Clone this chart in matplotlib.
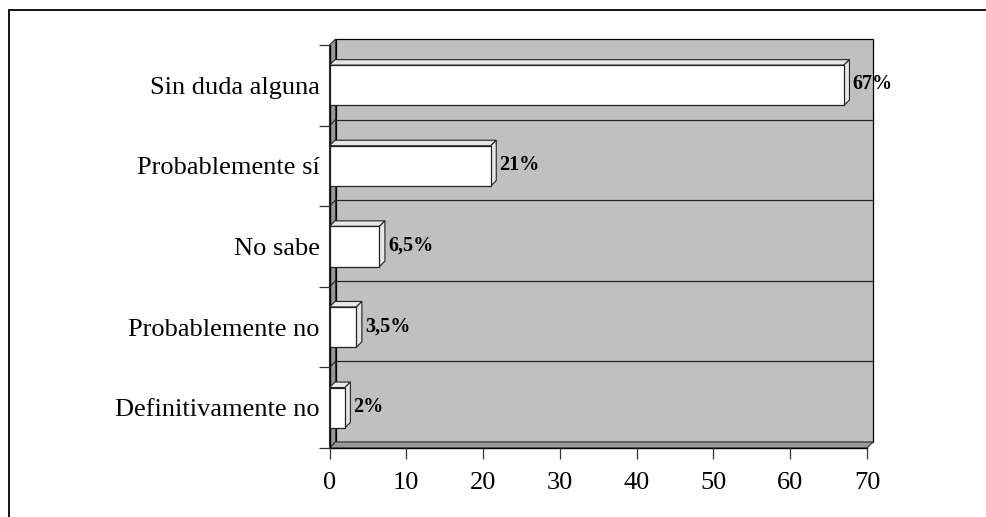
import matplotlib
matplotlib.use("Agg")
import matplotlib.pyplot as plt
from matplotlib.patches import Polygon, Rectangle

plt.rcParams["font.family"] = ["Liberation Serif", "DejaVu Serif"]

# bottom to top
categories = [
    "Definitivamente no",
    "Probablemente no",
    "No sabe",
    "Probablemente sí",
    "Sin duda alguna",
]
values = [2, 3.5, 6.5, 21, 67]
value_labels = ["2%", "3,5%", "6,5%", "21%", "67%"]
x_ticks = [0, 10, 20, 30, 40, 50, 60, 70]

W, H = 986, 517
wall_color = "#c0c0c0"
side_color = "#999999"
face_light = "#e8e8e8"

# front plane of the plot, in pixels
left, right, top, bottom = 329.5, 867.0, 45.0, 448.0

fig = plt.figure(figsize=(W / 100, H / 100), dpi=100)
ax = fig.add_axes([left / W, 1 - bottom / H, (right - left) / W, (bottom - top) / H])
ax.set_xlim(0, 70)
ax.set_ylim(-0.5, len(categories) - 0.5)

# depth offsets converted to data units
px_x = (right - left) / 70
px_y = (bottom - top) / len(categories)
wall_dx, wall_dy = 6 / px_x, 6 / px_y
bar_dx, bar_dy = 5.5 / px_x, 5.5 / px_y

y0, y1 = -0.5, len(categories) - 0.5

# back wall
ax.add_patch(Rectangle((wall_dx, y0 + wall_dy), 70, y1 - y0, fc=wall_color,
                       ec="black", lw=0.9, clip_on=False, zorder=0))
# side wall and floor
ax.add_patch(Polygon([(0, y0), (0, y1), (wall_dx, y1 + wall_dy), (wall_dx, y0 + wall_dy)],
                     closed=True, fc=side_color, ec="#333333", lw=0.8, clip_on=False, zorder=0.5))
ax.add_patch(Polygon([(0, y0), (70, y0), (70 + wall_dx, y0 + wall_dy), (wall_dx, y0 + wall_dy)],
                     closed=True, fc=side_color, ec="#333333", lw=0.8, clip_on=False, zorder=0.5))

# gridlines between categories, on the back and side walls
for g in range(len(categories) - 1):
    yg = g + 0.5
    ax.plot([wall_dx, 70 + wall_dx], [yg + wall_dy, yg + wall_dy], color="#222222",
            lw=0.9, clip_on=False, zorder=0.6)
    ax.plot([0, wall_dx], [yg, yg + wall_dy], color="#222222", lw=0.8,
            clip_on=False, zorder=0.6)

# bars: front face plus top and side faces
h = 0.5
pos = list(range(len(categories)))
ax.barh(pos, values, height=h, color="white", edgecolor="#222222", linewidth=0.9, zorder=3)
for i, v in zip(pos, values):
    t = i + h / 2
    b = i - h / 2
    ax.add_patch(Polygon([(0, t), (v, t), (v + bar_dx, t + bar_dy), (bar_dx, t + bar_dy)],
                         closed=True, fc=face_light, ec="#222222", lw=0.8, zorder=2.5,
                         clip_on=False))
    ax.add_patch(Polygon([(v, b), (v + bar_dx, b + bar_dy), (v + bar_dx, t + bar_dy), (v, t)],
                         closed=True, fc=face_light, ec="#222222", lw=0.8, zorder=2.5,
                         clip_on=False))

for i, v, lab in zip(pos, values, value_labels):
    ax.text(v + bar_dx + 3 / px_x, i + 0.01, lab, va="center", ha="left",
            fontsize=14.5, fontweight="bold", zorder=4)

# axes styling
for s in ["top", "right"]:
    ax.spines[s].set_visible(False)
ax.spines["left"].set_linewidth(1.0)
ax.spines["bottom"].set_linewidth(1.0)
ax.spines["left"].set_zorder(1)
ax.spines["bottom"].set_zorder(1)
ax.set_facecolor("none")

ax.set_xticks(x_ticks)
ax.set_xticklabels([str(t) for t in x_ticks])
ax.tick_params(axis="x", direction="out", length=8, width=0.9, labelsize=19, pad=9,
               color="#333333")

ax.set_yticks([k - 0.5 for k in range(len(categories) + 1)])
ax.set_yticklabels([])
ax.tick_params(axis="y", which="major", direction="out", length=8, width=0.9, color="#333333")
ax.set_yticks(pos, minor=True)
ax.set_yticklabels(categories, minor=True)
ax.tick_params(axis="y", which="minor", length=0, labelsize=19, pad=7)

# outer frame
fig.add_artist(Rectangle((9 / W, -0.1), 1.2, (H - 10) / H + 0.1, transform=fig.transFigure,
                         fill=False, ec="black", lw=1.3))

fig.savefig("out.png", dpi=100)
